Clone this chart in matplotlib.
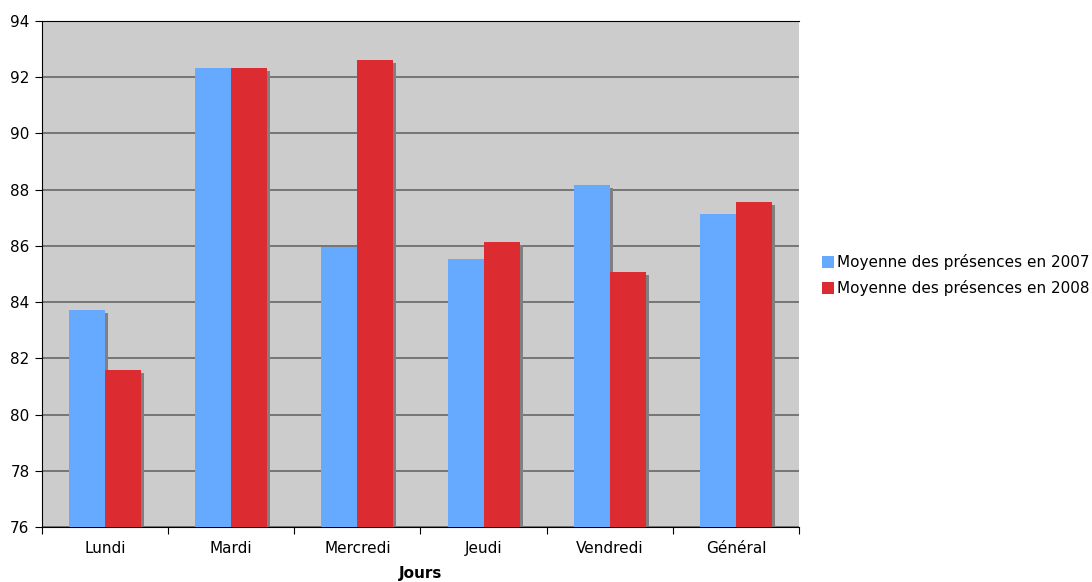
import matplotlib
matplotlib.use("Agg")
import matplotlib.pyplot as plt
import matplotlib.transforms as mtransforms
import numpy as np

categories = ["Lundi", "Mardi", "Mercredi", "Jeudi", "Vendredi", "Général"]
values_2007 = [83.72, 92.33, 85.96, 85.53, 88.15, 87.14]
values_2008 = [81.57, 92.33, 92.62, 86.14, 85.07, 87.57]
series_labels = ["Moyenne des présences en 2007", "Moyenne des présences en 2008"]
yticks = [76, 78, 80, 82, 84, 86, 88, 90, 92, 94]

plt.rcParams['font.family'] = ['DejaVu Sans']
fig = plt.figure(figsize=(10.92, 5.82), dpi=100)
ax = fig.add_axes([42/1092, 1-527/582, (799-42)/1092, (527-21)/582])
ax.set_facecolor("#CCCCCC")

x = np.arange(len(categories))
w = 0.285
shadow = ax.transData + mtransforms.ScaledTranslation(3/100, -3/100, fig.dpi_scale_trans)
for off, vals in ((-w/2, values_2007), (w/2, values_2008)):
    ax.bar(x + off, vals, w, bottom=0, color="#808080", transform=shadow, zorder=2)
b1 = ax.bar(x - w/2, values_2007, w, color="#66AAFF", zorder=3, label=series_labels[0])
b2 = ax.bar(x + w/2, values_2008, w, color="#DD2B32", zorder=3, label=series_labels[1])

ax.set_ylim(76, 94)
ax.set_xlim(-0.5, len(categories) - 0.5)
ax.set_yticks(yticks)
ax.set_yticklabels([str(t) for t in yticks], fontsize=11)
ax.yaxis.grid(True, color="#666666", linewidth=1.2, zorder=1)
ax.set_axisbelow(True)

ax.set_xticks(np.arange(len(categories) + 1) - 0.5)
ax.set_xticklabels([])
ax.set_xticks(x, minor=True)
ax.set_xticklabels(categories, minor=True, fontsize=11)
ax.tick_params(axis='x', which='minor', length=0, pad=10)
ax.tick_params(axis='x', which='major', length=5, direction='out', color='black')
ax.tick_params(axis='y', length=5, direction='out', pad=4)

ax.spines["top"].set_color("black")
ax.spines["right"].set_visible(False)
ax.spines["left"].set_color("black")
ax.spines["bottom"].set_color("black")

ax.set_xlabel("Jours", fontsize=11, fontweight="bold", labelpad=7)

ax.legend(handles=[b1, b2], labels=series_labels, loc="center left",
          bbox_to_anchor=(814/1092, 1 - 275/582), bbox_transform=fig.transFigure,
          frameon=False, fontsize=11, handlelength=0.8, handleheight=0.8,
          handletextpad=0.2, labelspacing=0.65, borderpad=0)

fig.savefig("out.png", dpi=100)
